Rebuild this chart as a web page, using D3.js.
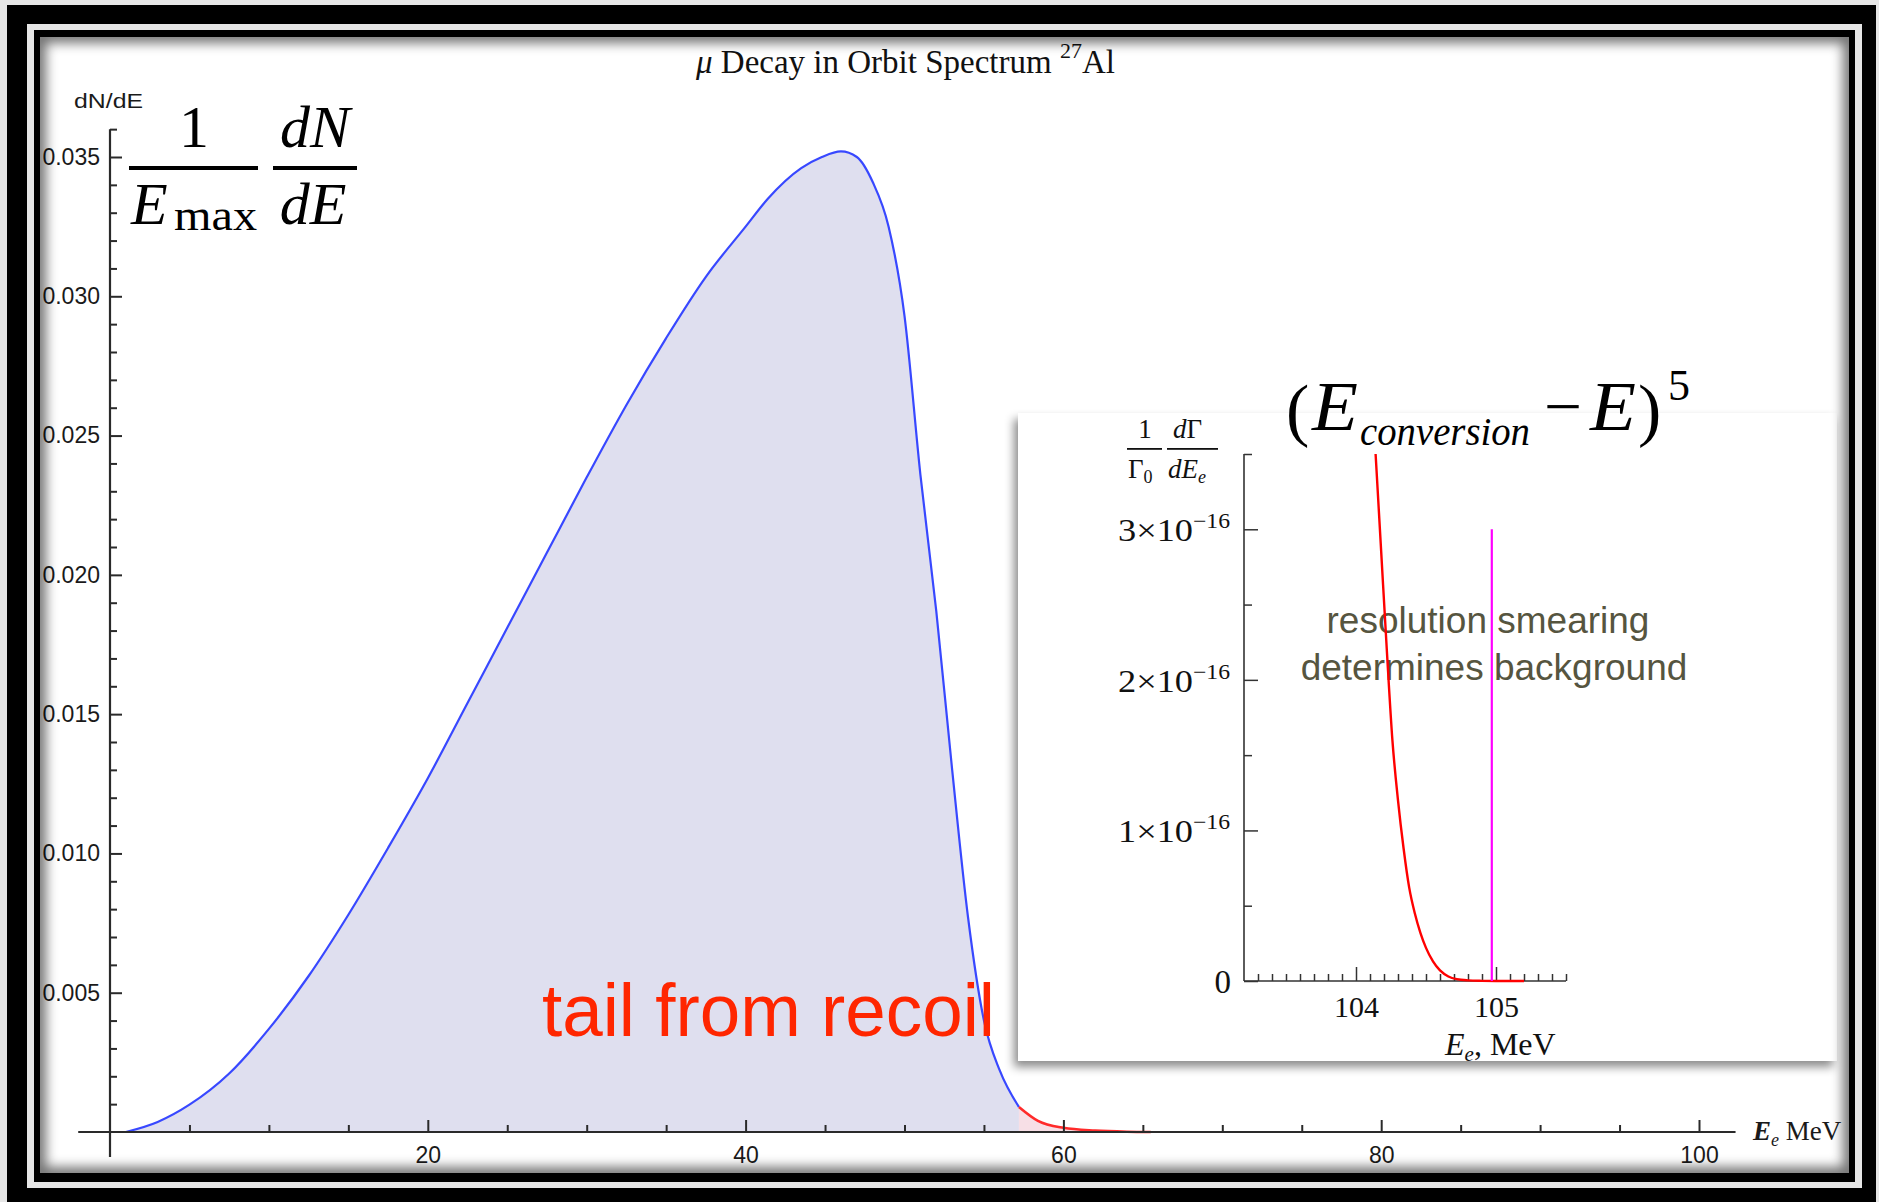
<!DOCTYPE html>
<html><head><meta charset="utf-8">
<script src="https://cdn.jsdelivr.net/npm/d3@7"></script>
<style>
html,body{margin:0;padding:0;background:#e6e6e6;}
svg{display:block;}
</style></head><body>
<svg id="c" width="1879" height="1202"></svg>
<script>
// ---------------- data ----------------
const spectrumE = [1, 3, 5, 7.5, 10, 12.5, 15, 17.5, 20, 22.5, 25, 27.5, 30, 32.5, 35, 37.5, 40, 41.4, 43.5, 44.8, 46, 47, 48, 49, 50, 51, 52, 53, 54, 55, 56, 57.2];
const spectrumV = [0, 0.00036, 0.00098, 0.0021, 0.0037, 0.0056, 0.0078, 0.0102, 0.0127, 0.0154, 0.0181, 0.0208, 0.0235, 0.0261, 0.0285, 0.0307, 0.0325, 0.0335, 0.0346, 0.0350, 0.0352, 0.0350, 0.0341, 0.0325, 0.0293, 0.0236, 0.0187, 0.0130, 0.0077, 0.0040, 0.0022, 0.0009];
const tailE = [57.2, 58.4, 60, 62, 64, 65.5];
const tailV = [0.0009, 0.0004, 0.00015, 0.00005, 0.00001, 0];

const xMajorTicks = [20, 40, 60, 80, 100];
const xMinorTicks = [5, 10, 15, 25, 30, 35, 45, 50, 55, 65, 70, 75, 85, 90, 95];
const yMajorTicks = [0.005, 0.010, 0.015, 0.020, 0.025, 0.030, 0.035];
const yTickLabels = ["0.005", "0.010", "0.015", "0.020", "0.025", "0.030", "0.035"];
const yMinorTicks = [1,2,3,4,6,7,8,9,11,12,13,14,16,17,18,19,21,22,23,24,26,27,28,29,31,32,33,34,36].map(d => d / 1000);

const insetE = [104.14, 104.18, 104.22, 104.26, 104.30, 104.34, 104.38, 104.42, 104.46, 104.50, 104.55, 104.60, 104.66, 104.72, 104.80, 104.90, 105.0, 105.2];
const insetV = [3.5, 2.85, 2.2, 1.6, 1.2, 0.88, 0.62, 0.45, 0.32, 0.22, 0.13, 0.07, 0.03, 0.012, 0.004, 0.001, 0, 0].map(v => v * 1e-16);
const signalE = 104.97;
const signalV = 3.0e-16;
const insetXMajor = [104, 105];
const insetXLabels = ["104", "105"];
const insetXMinor = [103.3,103.4,103.5,103.6,103.7,103.8,103.9,104.1,104.2,104.3,104.4,104.5,104.6,104.7,104.8,104.9,105.1,105.2,105.3,105.4,105.5];
const insetYMajor = [1e-16, 2e-16, 3e-16];
const insetYMantissa = ["1", "2", "3"];
const insetYMinor = [0.5e-16, 1.5e-16, 2.5e-16, 3.5e-16];

// ---------------- setup ----------------
const svg = d3.select("#c");
const defs = svg.append("defs");
defs.append("filter").attr("id", "blur").attr("x", "-10%").attr("y", "-10%").attr("width", "120%").attr("height", "120%")
  .append("feGaussianBlur").attr("stdDeviation", 6);
const ds = defs.append("filter").attr("id", "drop").attr("x", "-10%").attr("y", "-10%").attr("width", "120%").attr("height", "125%");
ds.append("feDropShadow").attr("dx", -4).attr("dy", 6).attr("stdDeviation", 5).attr("flood-color", "#000").attr("flood-opacity", 0.45);

// frame
svg.append("rect").attr("x", 0).attr("y", 0).attr("width", 1879).attr("height", 1202).attr("fill", "#e6e6e6");
svg.append("rect").attr("x", 7).attr("y", 5).attr("width", 1869).attr("height", 1197).attr("fill", "#000");
svg.append("rect").attr("x", 27).attr("y", 24).attr("width", 1835).attr("height", 1164).attr("fill", "#e6e6e6");
svg.append("rect").attr("x", 34).attr("y", 30).attr("width", 1821).attr("height", 1152).attr("fill", "#000");
const panel = {x: 40, y: 37, w: 1809, h: 1136};
svg.append("rect").attr("x", panel.x).attr("y", panel.y).attr("width", panel.w).attr("height", panel.h).attr("fill", "#fff");
defs.append("clipPath").attr("id", "pc").append("rect")
  .attr("x", panel.x).attr("y", panel.y).attr("width", panel.w).attr("height", panel.h);

const main = svg.append("g").attr("clip-path", "url(#pc)");

// ---------------- main chart ----------------
const X = d3.scaleLinear().domain([0, 100]).range([110, 1699]);
const Y = d3.scaleLinear().domain([0, 0.035]).range([1132, 157]);

const spec = spectrumE.map((e, i) => [e, spectrumV[i]]);
const tail = tailE.map((e, i) => [e, tailV[i]]);

const area = d3.area().x(d => X(d[0])).y0(Y(0)).y1(d => Y(d[1])).curve(d3.curveMonotoneX);
const line = d3.line().x(d => X(d[0])).y(d => Y(d[1])).curve(d3.curveMonotoneX);

main.append("path").attr("d", area(spec)).attr("fill", "#dfdfef");
main.append("path").attr("d", area(tail)).attr("fill", "#f7dfe6");
main.append("path").attr("d", line(spec)).attr("fill", "none").attr("stroke", "#3848ff").attr("stroke-width", 2.2);
main.append("path").attr("d", line(tail)).attr("fill", "none").attr("stroke", "#ff2a2a").attr("stroke-width", 2.6);

// axes lines
main.append("line").attr("x1", X(-2)).attr("x2", X(102.3)).attr("y1", Y(0)).attr("y2", Y(0))
  .attr("stroke", "#2a2a2a").attr("stroke-width", 2.2);
main.append("line").attr("x1", X(0)).attr("x2", X(0)).attr("y1", Y(-0.0009)).attr("y2", Y(0.036))
  .attr("stroke", "#2a2a2a").attr("stroke-width", 2.2);

const tickFont = "'Liberation Sans', Arial, sans-serif";
function styleAxis(g) {
  g.select(".domain").remove();
  g.selectAll(".tick line").attr("stroke", "#2a2a2a").attr("stroke-width", 2);
  g.selectAll(".tick text").attr("fill", "#1a1a1a").attr("font-family", tickFont).attr("font-size", 23);
}
main.append("g").attr("transform", `translate(0,${Y(0)})`)
  .call(d3.axisBottom(X).tickValues(xMinorTicks).tickSize(-7).tickFormat(""))
  .call(styleAxis);
main.append("g").attr("transform", `translate(0,${Y(0)})`)
  .call(d3.axisBottom(X).tickValues(xMajorTicks).tickSize(-12).tickPadding(15).tickFormat(d => String(d)))
  .call(styleAxis);
main.append("g").attr("transform", `translate(${X(0)},0)`)
  .call(d3.axisLeft(Y).tickValues(yMinorTicks).tickSize(-7).tickFormat(""))
  .call(styleAxis);
main.append("g").attr("transform", `translate(${X(0)},0)`)
  .call(d3.axisLeft(Y).tickValues(yMajorTicks).tickSize(-12).tickPadding(10).tickFormat((d, i) => yTickLabels[i]))
  .call(styleAxis);

// axis labels
main.append("text").attr("x", 74).attr("y", 108).attr("font-family", tickFont).attr("font-size", 21)
  .attr("fill", "#1a1a1a").attr("textLength", 69).attr("lengthAdjust", "spacingAndGlyphs").text("dN/dE");
const xl = main.append("text").attr("x", 1753).attr("y", 1140).attr("font-family", "'Liberation Serif', serif")
  .attr("font-size", 27).attr("fill", "#1a1a1a");
xl.append("tspan").attr("font-style", "italic").attr("font-weight", "bold").text("E");
xl.append("tspan").attr("font-style", "italic").attr("font-size", 18).attr("dy", 6).text("e");
xl.append("tspan").attr("dy", -6).text(" MeV");

// title
const tt = main.append("text").attr("x", 696).attr("y", 73).attr("font-family", "'Liberation Serif', 'Times New Roman', serif")
  .attr("font-size", 33).attr("fill", "#111");
tt.append("tspan").attr("font-style", "italic").text("μ");
tt.append("tspan").text(" Decay in Orbit Spectrum ");
tt.append("tspan").attr("font-size", 22).attr("dy", -15).text("27");
tt.append("tspan").attr("dy", 15).text("Al");

// big formula 1/Emax dN/dE
const serif = "'Liberation Serif', 'Times New Roman', serif";
main.append("text").attr("x", 194).attr("y", 147).attr("text-anchor", "middle").attr("font-family", serif).attr("font-size", 60).text("1");
main.append("rect").attr("x", 129).attr("y", 166).attr("width", 129).attr("height", 4).attr("fill", "#000");
main.append("text").attr("x", 131).attr("y", 224).attr("font-family", serif).attr("font-size", 60).attr("font-style", "italic").text("E");
main.append("text").attr("x", 174).attr("y", 230).attr("font-family", serif).attr("font-size", 44)
  .attr("textLength", 83).attr("lengthAdjust", "spacingAndGlyphs").text("max");
main.append("rect").attr("x", 273).attr("y", 166).attr("width", 84).attr("height", 4).attr("fill", "#000");
main.append("text").attr("x", 315).attr("y", 147).attr("text-anchor", "middle").attr("font-family", serif).attr("font-size", 60).attr("font-style", "italic").text("dN");
main.append("text").attr("x", 313).attr("y", 224).attr("text-anchor", "middle").attr("font-family", serif).attr("font-size", 60).attr("font-style", "italic").text("dE");

// annotation
main.append("text").attr("x", 542).attr("y", 1036).attr("font-family", tickFont).attr("font-size", 74)
  .attr("fill", "#ff2600").attr("textLength", 453).attr("lengthAdjust", "spacingAndGlyphs").text("tail from recoil");

// ---------------- inset ----------------
const inset = svg.append("g");
inset.append("rect").attr("x", 1018).attr("y", 413).attr("width", 819).attr("height", 648)
  .attr("fill", "#fff").attr("filter", "url(#drop)");

const IX = d3.scaleLinear().domain([103.2, 105.5]).range([1244, 1566]);
const IY = d3.scaleLinear().domain([0, 3.5e-16]).range([981, 454]);

// text annotation
const noteFont = "'Liberation Sans', Arial, sans-serif";
inset.append("text").attr("x", 1488).attr("y", 633).attr("text-anchor", "middle").attr("font-family", noteFont)
  .attr("font-size", 37).attr("fill", "#56553f").text("resolution smearing");
inset.append("text").attr("x", 1494).attr("y", 680).attr("text-anchor", "middle").attr("font-family", noteFont)
  .attr("font-size", 37).attr("fill", "#56553f").text("determines background");

// axes
inset.append("line").attr("x1", IX(103.2)).attr("x2", IX(105.5)).attr("y1", IY(0)).attr("y2", IY(0)).attr("stroke", "#333").attr("stroke-width", 1.6);
inset.append("line").attr("x1", IX(103.2)).attr("x2", IX(103.2)).attr("y1", IY(0)).attr("y2", IY(3.5e-16)).attr("stroke", "#333").attr("stroke-width", 1.6);
function styleInset(g) {
  g.select(".domain").remove();
  g.selectAll(".tick line").attr("stroke", "#333").attr("stroke-width", 1.5);
  g.selectAll(".tick text").attr("fill", "#111").attr("font-family", serif).attr("font-size", 30)
    .attr("textLength", 45).attr("lengthAdjust", "spacingAndGlyphs");
}
inset.append("g").attr("transform", `translate(0,${IY(0)})`)
  .call(d3.axisBottom(IX).tickValues(insetXMinor).tickSize(-7).tickFormat(""))
  .call(styleInset);
inset.append("g").attr("transform", `translate(0,${IY(0)})`)
  .call(d3.axisBottom(IX).tickValues(insetXMajor).tickSize(-14).tickPadding(15).tickFormat((d, i) => insetXLabels[i]))
  .call(styleInset);
inset.append("g").attr("transform", `translate(${IX(103.2)},0)`)
  .call(d3.axisLeft(IY).tickValues(insetYMinor).tickSize(-8).tickFormat(""))
  .call(styleInset);
inset.append("g").attr("transform", `translate(${IX(103.2)},0)`)
  .call(d3.axisLeft(IY).tickValues([0].concat(insetYMajor)).tickSize(-14).tickFormat(""))
  .call(styleInset);
// y tick labels
inset.append("text").attr("x", 1231).attr("y", IY(0) + 12).attr("text-anchor", "end").attr("font-family", serif).attr("font-size", 33).attr("fill", "#111").text("0");
insetYMajor.forEach((v, i) => {
  const t = inset.append("text").attr("y", IY(v) + 12).attr("font-family", serif).attr("fill", "#111");
  t.append("tspan").attr("x", 1118).attr("font-size", 32).attr("textLength", 75).attr("lengthAdjust", "spacingAndGlyphs")
    .text(insetYMantissa[i] + "×10");
  t.append("tspan").attr("x", 1193).attr("dy", -13).attr("font-size", 21).attr("textLength", 37).attr("lengthAdjust", "spacingAndGlyphs")
    .text("−16");
});
// x label
const il = inset.append("text").attr("x", 1445).attr("y", 1055).attr("font-family", serif).attr("font-size", 32).attr("fill", "#111");
il.append("tspan").attr("font-style", "italic").text("E");
il.append("tspan").attr("font-style", "italic").attr("font-size", 21).attr("dy", 6).text("e");
il.append("tspan").attr("dy", -6).text(", MeV");
// y label fraction
const lab = inset.append("g").attr("font-family", serif).attr("fill", "#111").attr("font-size", 27);
lab.append("text").attr("x", 1145).attr("y", 438).attr("text-anchor", "middle").text("1");
lab.append("rect").attr("x", 1127).attr("y", 448).attr("width", 35).attr("height", 1.8);
const g0 = lab.append("text").attr("x", 1128).attr("y", 478);
g0.append("tspan").text("Γ");
g0.append("tspan").attr("font-size", 18).attr("dy", 5).text("0");
const dg = lab.append("text").attr("x", 1173).attr("y", 438);
dg.append("tspan").attr("font-style", "italic").text("d");
dg.append("tspan").text("Γ");
lab.append("rect").attr("x", 1167).attr("y", 448).attr("width", 51).attr("height", 1.8);
const de = lab.append("text").attr("x", 1168).attr("y", 478).attr("font-style", "italic");
de.append("tspan").text("dE");
de.append("tspan").attr("font-size", 18).attr("dy", 5).text("e");

// curves
const ins = insetE.map((e, i) => [e, insetV[i]]);
inset.append("path").attr("d", d3.line().x(d => IX(d[0])).y(d => IY(d[1])).curve(d3.curveMonotoneX)(ins))
  .attr("fill", "none").attr("stroke", "#ff0000").attr("stroke-width", 2.4);
inset.append("line").attr("x1", IX(signalE)).attr("x2", IX(signalE)).attr("y1", IY(0)).attr("y2", IY(signalV))
  .attr("stroke", "#ff00ff").attr("stroke-width", 2.2);

// formula (E_conversion - E)^5 — one text element with positioned pieces
const fz = svg.append("text").attr("font-family", serif).attr("fill", "#000").attr("y", 433).attr("font-size", 70);
fz.append("tspan").attr("x", 1286).attr("y", 433).text("(");
fz.append("tspan").attr("x", 1312).attr("y", 430).attr("font-style", "italic")
  .attr("textLength", 46).attr("lengthAdjust", "spacingAndGlyphs").text("E");
fz.append("tspan").attr("x", 1360).attr("y", 445).attr("font-size", 41).attr("font-style", "italic")
  .attr("textLength", 170).attr("lengthAdjust", "spacingAndGlyphs").text("conversion");
fz.append("tspan").attr("x", 1544).attr("y", 428).attr("font-size", 64)
  .attr("textLength", 38).attr("lengthAdjust", "spacingAndGlyphs").text("−");
fz.append("tspan").attr("x", 1590).attr("y", 430).attr("font-style", "italic")
  .attr("textLength", 46).attr("lengthAdjust", "spacingAndGlyphs").text("E");
fz.append("tspan").attr("x", 1638).attr("y", 433).text(")");
fz.append("tspan").attr("x", 1668).attr("y", 400).attr("font-size", 44).text("5");

// inner shadow of the white panel
svg.append("g").attr("clip-path", "url(#pc)").append("rect")
  .attr("x", panel.x - 2).attr("y", panel.y - 2).attr("width", panel.w + 4).attr("height", panel.h + 4)
  .attr("fill", "none").attr("stroke", "#000").attr("stroke-width", 16).attr("opacity", 0.55).attr("filter", "url(#blur)");
</script>
</body></html>
